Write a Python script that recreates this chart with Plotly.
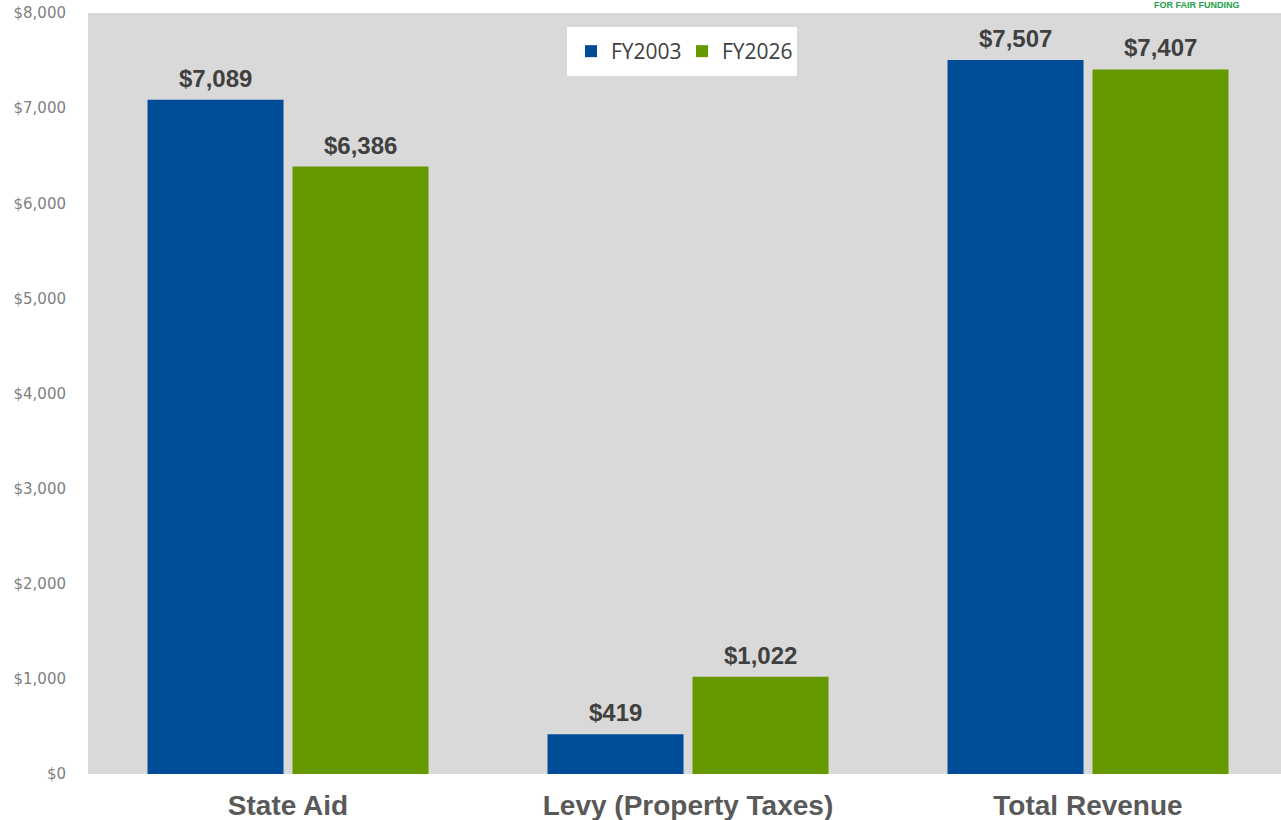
import plotly.graph_objects as go

categories = ["State Aid", "Levy (Property Taxes)", "Total Revenue"]
fy2003 = [7089, 419, 7507]
fy2026 = [6386, 1022, 7407]
series_names = ["FY2003", "FY2026"]
colors = ["#004C97", "#669900"]
y_ticks = [0, 1000, 2000, 3000, 4000, 5000, 6000, 7000, 8000]
y_tick_labels = ["$0", "$1,000", "$2,000", "$3,000", "$4,000", "$5,000", "$6,000", "$7,000", "$8,000"]

W, H = 1281, 820
L, T, B = 88, 13, 46
CAT_PX = 400  # pixels per category

fig = go.Figure()
for name, vals, col in zip(series_names, [fy2003, fy2026], colors):
    fig.add_trace(go.Bar(
        x=categories, y=vals, name=name,
        marker=dict(color=col, line=dict(width=0)),
    ))

# value labels above bars
for i, (vals, shift) in enumerate(zip([fy2003, fy2026], [-72.5, 72.5])):
    for c, v in zip(categories, vals):
        fig.add_annotation(
            x=c, y=v, xref="x", yref="y", text=f"${v:,}",
            showarrow=False, xanchor="center", yanchor="bottom",
            xshift=shift, yshift=7, borderpad=0,
            font=dict(family="Liberation Sans", size=24, color="#404040", weight="bold"),
        )

fig.update_layout(
    width=W, height=H,
    margin=dict(l=L, r=0, t=T, b=B, autoexpand=False),
    paper_bgcolor="white",
    plot_bgcolor="#D9D9D9",
    barmode="group",
    bargap=0.275,
    bargroupgap=0.062,
    showlegend=True,
    legend=dict(
        orientation="h", x=(567 - L) / (W - L), y=1 - (27 - T) / (H - T - B),
        xanchor="left", yanchor="top",
        bgcolor="white", bordercolor="white", borderwidth=4,
        font=dict(family="Open Sans", size=21, color="#404040"),
        itemwidth=30, entrywidth=66,
    ),
    xaxis=dict(
        range=[-0.5, -0.5 + (W - L) / CAT_PX],
        showgrid=False, zeroline=False, showline=False,
        tickfont=dict(family="Liberation Sans", size=28, color="#595959", weight="bold"),
        ticks="", ticklabelstandoff=12, automargin=False,
    ),
    yaxis=dict(
        range=[0, 8000],
        tickvals=y_ticks, ticktext=y_tick_labels,
        showgrid=False, zeroline=False, showline=False,
        tickfont=dict(family="DejaVu Sans", size=15, color="#7F7F7F"),
        ticks="", ticklabelstandoff=21, automargin=False,
    ),
    font=dict(family="Liberation Sans"),
)

fig.add_annotation(
    text="FOR FAIR FUNDING", xref="paper", yref="paper",
    x=(1197 - L) / (W - L), y=1.0, xanchor="center", yanchor="middle", yshift=T - 5,
    showarrow=False, font=dict(family="Liberation Sans", size=9, color="#22A04B", weight="bold"),
)

fig.write_html(
    "out.html",
    config={"displayModeBar": False},
    post_script="document.body.style.margin='0px';document.body.style.overflow='hidden';",
)
